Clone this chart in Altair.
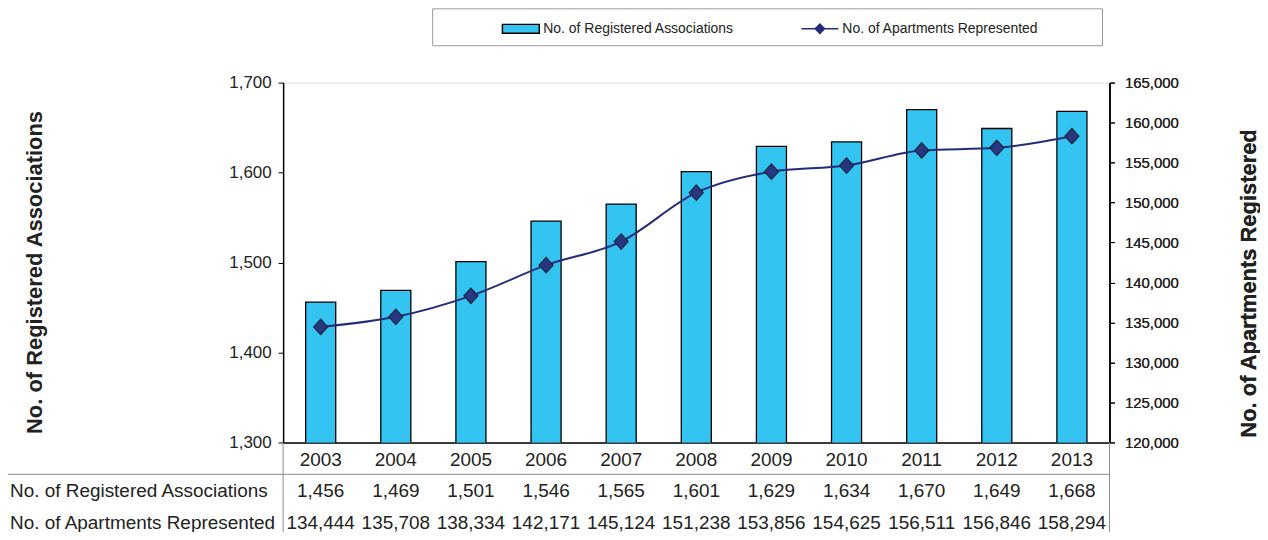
import altair as alt
import pandas as pd

years = ["2003", "2004", "2005", "2006", "2007", "2008", "2009", "2010", "2011", "2012", "2013"]
associations = [1456, 1469, 1501, 1546, 1565, 1601, 1629, 1634, 1670, 1649, 1668]
apartments = [134444, 135708, 138334, 142171, 145124, 151238, 153856, 154625, 156511, 156846, 158294]
series_names = ["No. of Registered Associations", "No. of Apartments Represented"]
row_labels = ["No. of Registered Associations", "No. of Apartments Represented"]
left_ticks = [1300, 1400, 1500, 1600, 1700]
right_ticks = [120000, 125000, 130000, 135000, 140000, 145000, 150000, 155000, 160000, 165000]
left_title = "No. of Registered Associations"
right_title = "No. of Apartments Registered"

df = pd.DataFrame({"year": years, "assoc": associations, "apts": apartments})

W, H = 829, 361
FONT = "Liberation Sans"
CYAN = "#33C4F2"
NAVY = "#232C7A"
TXT = "#222222"
GRID = "#8a8a8a"

x_enc = alt.X(
    "year:O",
    scale=alt.Scale(paddingInner=0.6, paddingOuter=0.3),
    axis=alt.Axis(
        title=None, labelAngle=0, ticks=False, labelFontSize=19, labelColor=TXT,
        labelPadding=8, domainColor="#000000", domainWidth=1.5, labelFont=FONT,
    ),
)

base = alt.Chart(df)

bars = base.mark_bar(fill=CYAN, stroke="#000000", strokeWidth=1.3, clip=True).encode(
    x=x_enc,
    y=alt.Y(
        "assoc:Q",
        scale=alt.Scale(domain=[1300, 1700], nice=False, zero=False),
        axis=alt.Axis(
            values=left_ticks, format=",.0f", grid=False, labelFontSize=17, labelColor=TXT,
            tickSize=5, tickColor="#000000", domainColor="#000000", domainWidth=1.5,
            labelPadding=7, labelFont=FONT,
            title=left_title, titleFontSize=22, titleFontWeight="bold", titleColor=TXT,
            titleFont=FONT, titleAngle=270, titleX=-249, titleY=190,
            titleAlign="center", titleBaseline="middle",
        ),
    ),
)

y_right = alt.Y(
    "apts:Q",
    scale=alt.Scale(domain=[120000, 165000], nice=False, zero=False),
    axis=alt.Axis(
        orient="right", values=right_ticks, format=",.0f", grid=False, labelFontSize=15,
        labelColor=TXT, tickSize=5, tickColor="#000000", domainColor="#000000",
        domainWidth=1.5, labelPadding=10, labelFont=FONT,
        title=right_title, titleFontSize=22, titleFontWeight="bold", titleColor=TXT,
        titleFont=FONT, titleAngle=270, titleX=139, titleY=201,
        titleAlign="center", titleBaseline="middle",
    ),
)

line = base.mark_line(color=NAVY, strokeWidth=2, interpolate="monotone").encode(
    x=x_enc, y=y_right
)
points = base.mark_point(
    shape="M0,-1.1L1,0L0,1.1L-1,0Z", size=200, filled=True, fill="#283583",
    stroke="#1b2a3a", strokeWidth=1.2, opacity=1,
).encode(x=x_enc, y=y_right)

# Legend (built from scales, drawn by the library)
rect_path = "M-1,-0.24H1V0.24H-1Z"
line_path = "M-1,0H1M0,-0.25L0.25,0L0,0.25L-0.25,0Z"
leg = alt.Legend(
    title=None, orient="none", legendX=219, legendY=-74, direction="horizontal",
    symbolSize=1369, symbolStrokeWidth=1.5, labelFontSize=14, labelOffset=3,
    columnPadding=64, padding=0, labelColor=TXT, labelFont=FONT, labelLimit=500,
)
legend_layer = (
    alt.Chart(pd.DataFrame({"series": series_names}))
    .transform_filter("false")
    .mark_point(filled=True, opacity=1)
    .encode(
        shape=alt.Shape("series:N", scale=alt.Scale(domain=series_names, range=[rect_path, line_path]), legend=leg),
        fill=alt.Fill("series:N", scale=alt.Scale(domain=series_names, range=[CYAN, NAVY]), legend=leg),
        stroke=alt.Stroke("series:N", scale=alt.Scale(domain=series_names, range=["#000000", NAVY]), legend=leg),
    )
)
one = pd.DataFrame({"k": [0]})
legend_box = alt.Chart(one).mark_rect(fillOpacity=0, stroke="#9a9a9a", strokeWidth=1).encode(
    x=alt.value(150), x2=alt.value(822), y=alt.value(-74), y2=alt.value(-37)
)

# Data table beneath the chart
row1 = base.mark_text(fontSize=19, color=TXT, baseline="middle", font=FONT).encode(
    x=x_enc, y=alt.value(410), text=alt.Text("assoc:Q", format=",")
)
row2 = base.mark_text(fontSize=19, color=TXT, baseline="middle", font=FONT).encode(
    x=x_enc, y=alt.value(442), text=alt.Text("apts:Q", format=",")
)
lab1 = alt.Chart(one).mark_text(text=row_labels[0], fontSize=19, color=TXT, baseline="middle", align="left", font=FONT).encode(
    x=alt.value(-274), y=alt.value(410)
)
lab2 = alt.Chart(one).mark_text(text=row_labels[1], fontSize=19, color=TXT, baseline="middle", align="left", font=FONT).encode(
    x=alt.value(-274), y=alt.value(442)
)
hline = alt.Chart(one).mark_rule(color=GRID, strokeWidth=1).encode(
    x=alt.value(-279), x2=alt.value(829), y=alt.value(393)
)
vleft = alt.Chart(one).mark_rule(color=GRID, strokeWidth=1).encode(
    x=alt.value(-279), y=alt.value(393), y2=alt.value(470)
)
vmid = alt.Chart(one).mark_rule(color=GRID, strokeWidth=1).encode(
    x=alt.value(0), y=alt.value(361), y2=alt.value(470)
)
vright = alt.Chart(one).mark_rule(color=GRID, strokeWidth=1).encode(
    x=alt.value(829), y=alt.value(361), y2=alt.value(470)
)

chart = (
    alt.layer(
        hline, vleft, vmid, vright, legend_box,
        bars, line, points, legend_layer, row1, row2, lab1, lab2,
    )
    .resolve_scale(y="independent")
    .properties(
        width=W, height=H,
        autosize=alt.AutoSizeParams(type="none"),
        padding={"left": 276, "top": 74, "right": 151, "bottom": 89},
    )
    .configure_view(stroke="#9a9a9a", strokeWidth=1)
    .configure(font=FONT)
)

chart.save("out.html", embed_options={"renderer": "svg", "actions": False})
